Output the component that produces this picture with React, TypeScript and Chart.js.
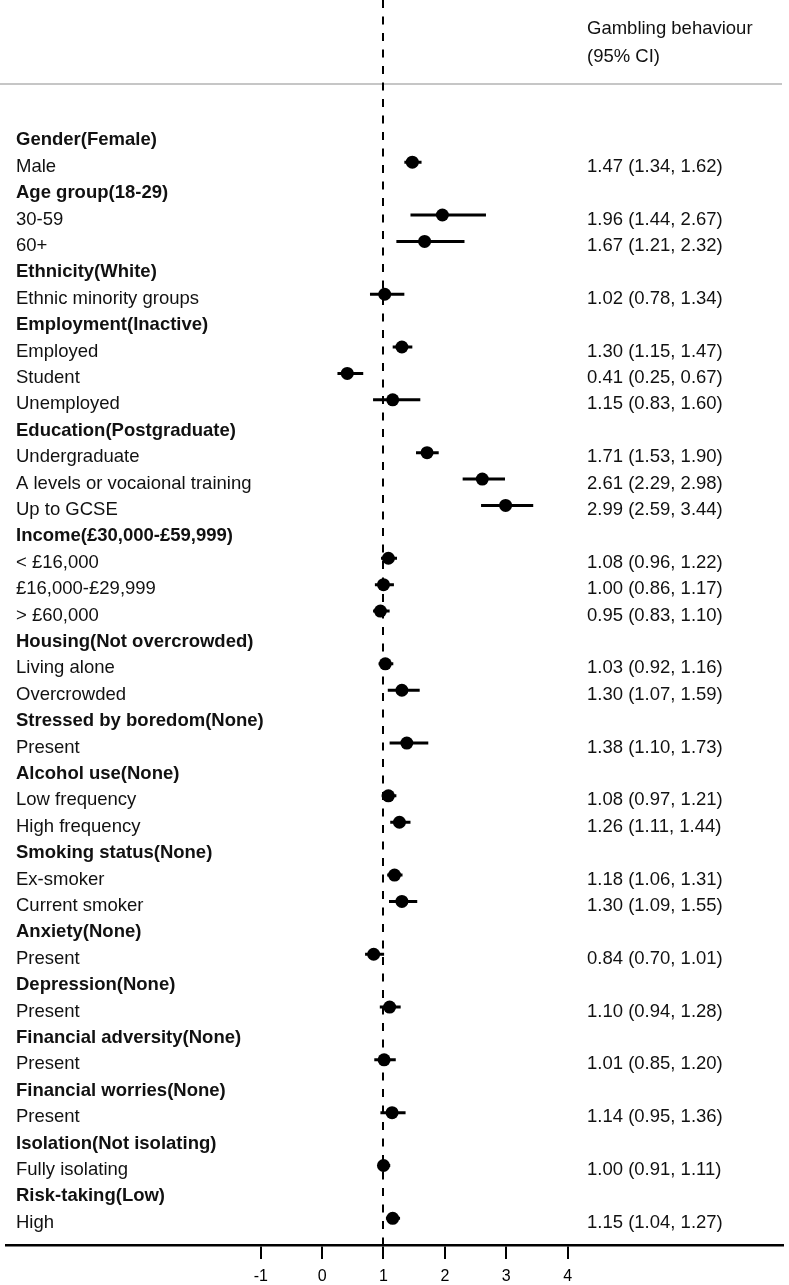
import React, { useEffect, useRef } from "react";
import { Chart, registerables } from "chart.js";

Chart.register(...registerables);

const categories = [
  "Gender(Female)", "Male",
  "Age group(18-29)", "30-59", "60+",
  "Ethnicity(White)", "Ethnic minority groups",
  "Employment(Inactive)", "Employed", "Student", "Unemployed",
  "Education(Postgraduate)", "Undergraduate", "A levels or vocaional training", "Up to GCSE",
  "Income(£30,000-£59,999)", "< £16,000", "£16,000-£29,999", "> £60,000",
  "Housing(Not overcrowded)", "Living alone", "Overcrowded",
  "Stressed by boredom(None)", "Present",
  "Alcohol use(None)", "Low frequency", "High frequency",
  "Smoking status(None)", "Ex-smoker", "Current smoker",
  "Anxiety(None)", "Present",
  "Depression(None)", "Present",
  "Financial adversity(None)", "Present",
  "Financial worries(None)", "Present",
  "Isolation(Not isolating)", "Fully isolating",
  "Risk-taking(Low)", "High",
];

const estimates = [
  null, 1.47,
  null, 1.96, 1.67,
  null, 1.02,
  null, 1.30, 0.41, 1.15,
  null, 1.71, 2.61, 2.99,
  null, 1.08, 1.00, 0.95,
  null, 1.03, 1.30,
  null, 1.38,
  null, 1.08, 1.26,
  null, 1.18, 1.30,
  null, 0.84,
  null, 1.10,
  null, 1.01,
  null, 1.14,
  null, 1.00,
  null, 1.15,
];

const lowerCI = [
  null, 1.34,
  null, 1.44, 1.21,
  null, 0.78,
  null, 1.15, 0.25, 0.83,
  null, 1.53, 2.29, 2.59,
  null, 0.96, 0.86, 0.83,
  null, 0.92, 1.07,
  null, 1.10,
  null, 0.97, 1.11,
  null, 1.06, 1.09,
  null, 0.70,
  null, 0.94,
  null, 0.85,
  null, 0.95,
  null, 0.91,
  null, 1.04,
];

const upperCI = [
  null, 1.62,
  null, 2.67, 2.32,
  null, 1.34,
  null, 1.47, 0.67, 1.60,
  null, 1.90, 2.98, 3.44,
  null, 1.22, 1.17, 1.10,
  null, 1.16, 1.59,
  null, 1.73,
  null, 1.21, 1.44,
  null, 1.31, 1.55,
  null, 1.01,
  null, 1.28,
  null, 1.20,
  null, 1.36,
  null, 1.11,
  null, 1.27,
];

const xTicks = [-1, 0, 1, 2, 3, 4];
const headerLines = ["Gambling behaviour", "(95% CI)"];
const referenceValue = 1;

const FONT = '"Liberation Sans", Arial, Helvetica, sans-serif';
const TEXT_SIZE = 18.5;

export default function App() {
  const ref = useRef<HTMLCanvasElement>(null);

  useEffect(() => {
    const canvas = ref.current;
    if (!canvas) return;

    const points: { x: number; y: number }[] = [];
    estimates.forEach((e, i) => {
      if (e != null) points.push({ x: e, y: i });
    });

    const forestPlugin = {
      id: "forest",
      beforeDatasetsDraw(chart: any) {
        const { ctx, chartArea } = chart;
        const xs = chart.scales.x;
        const ys = chart.scales.y;
        ctx.save();

        // header rule
        ctx.strokeStyle = "#c6c6c6";
        ctx.lineWidth = 2;
        ctx.beginPath();
        ctx.moveTo(0, 84);
        ctx.lineTo(782, 84);
        ctx.stroke();

        // dashed reference line
        const xr = Math.round(xs.getPixelForValue(referenceValue));
        ctx.strokeStyle = "#000";
        ctx.lineWidth = 2;
        ctx.setLineDash([8, 8.5]);
        ctx.beginPath();
        ctx.moveTo(xr, 0);
        ctx.lineTo(xr, chartArea.bottom);
        ctx.stroke();
        ctx.setLineDash([]);

        // whiskers
        ctx.lineWidth = 3;
        ctx.beginPath();
        for (let i = 0; i < estimates.length; i++) {
          if (estimates[i] == null) continue;
          const py = ys.getPixelForValue(i);
          ctx.moveTo(xs.getPixelForValue(lowerCI[i] as number), py);
          ctx.lineTo(xs.getPixelForValue(upperCI[i] as number), py);
        }
        ctx.stroke();

        // texts
        ctx.fillStyle = "#111";
        ctx.textBaseline = "alphabetic";
        ctx.textAlign = "left";
        ctx.font = `${TEXT_SIZE}px ${FONT}`;
        ctx.fillText(headerLines[0], 587, 33.5);
        ctx.fillText(headerLines[1], 587, 61.5);

        for (let i = 0; i < categories.length; i++) {
          const py = ys.getPixelForValue(i);
          const isHeader = estimates[i] == null;
          ctx.font = `${isHeader ? "bold " : ""}${TEXT_SIZE}px ${FONT}`;
          ctx.fillText(categories[i], 16, py + 9.6);
          if (!isHeader) {
            ctx.font = `${TEXT_SIZE}px ${FONT}`;
            const txt = `${(estimates[i] as number).toFixed(2)} (${(lowerCI[i] as number).toFixed(2)}, ${(upperCI[i] as number).toFixed(2)})`;
            ctx.fillText(txt, 587, py + 9.6);
          }
        }
        ctx.restore();
      },
    };

    const chart = new Chart(canvas, {
      type: "scatter",
      data: {
        datasets: [
          {
            data: points,
            pointRadius: 6.5,
            pointHoverRadius: 6.5,
            pointStyle: "circle",
            backgroundColor: "#000",
            borderColor: "#000",
            borderWidth: 0,
          },
        ],
      },
      options: {
        responsive: false,
        animation: false,
        layout: { padding: 0 },
        plugins: {
          legend: { display: false },
          tooltip: { enabled: false },
        },
        scales: {
          x: {
            type: "linear",
            position: "bottom",
            min: -5.143,
            max: 7.502,
            afterBuildTicks: (s: any) => {
              s.ticks = xTicks.map((v) => ({ value: v }));
            },
            afterFit: (s: any) => {
              s.height = 40;
            },
            grid: {
              drawOnChartArea: false,
              drawTicks: true,
              tickLength: 14,
              color: "#000",
              lineWidth: 2,
            },
            border: { display: true, color: "#000", width: 2.5 },
            ticks: {
              color: "#000",
              font: { family: FONT, size: 16 },
              padding: 8,
              maxRotation: 0,
              autoSkip: false,
              callback: (v: any) => String(v),
            },
          },
          y: {
            type: "linear",
            display: false,
            reverse: true,
            min: -4.898,
            max: 42.012,
          },
        },
      },
      plugins: [forestPlugin],
    } as any);

    return () => chart.destroy();
  }, []);

  return (
    <div style={{ position: "absolute", left: 0, top: 0, width: 789, height: 1285, background: "#fff" }}>
      <canvas ref={ref} width={789} height={1285} style={{ display: "block" }} />
    </div>
  );
}
